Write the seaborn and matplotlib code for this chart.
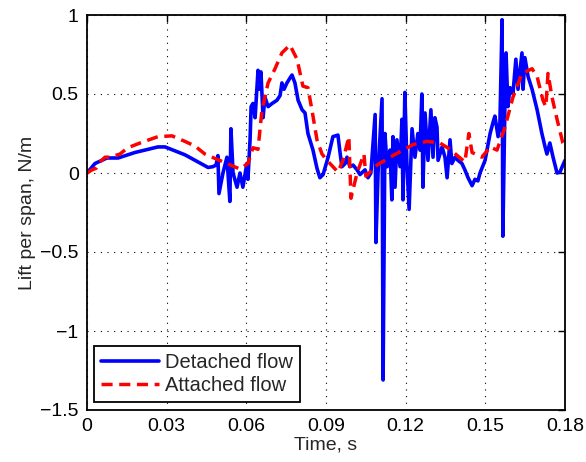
import numpy as np
import pandas as pd
import matplotlib
matplotlib.use("Agg")
import matplotlib.pyplot as plt
import seaborn as sns

# Detached flow (blue, solid)
t_detached = [0.0000, 0.0030, 0.0075, 0.0117, 0.0181, 0.0267, 0.0294, 0.0369, 0.0418, 0.0456,
              0.0474, 0.0486, 0.0493, 0.0497, 0.0512, 0.0527, 0.0538, 0.0542, 0.0550, 0.0565,
              0.0576, 0.0587, 0.0602, 0.0606, 0.0614, 0.0618, 0.0625, 0.0633, 0.0644, 0.0648,
              0.0655, 0.0663, 0.0670, 0.0682, 0.0697, 0.0715, 0.0727, 0.0734, 0.0742, 0.0753,
              0.0764, 0.0772, 0.0783, 0.0795, 0.0810, 0.0821, 0.0832, 0.0851, 0.0866, 0.0877,
              0.0889, 0.0908, 0.0926, 0.0945, 0.0953, 0.0960, 0.0972, 0.0979, 0.0990, 0.1002,
              0.1017, 0.1028, 0.1047, 0.1058, 0.1069, 0.1085, 0.1088, 0.1096, 0.1111, 0.1115,
              0.1122, 0.1130, 0.1141, 0.1148, 0.1152, 0.1160, 0.1167, 0.1179, 0.1186, 0.1190,
              0.1197, 0.1205, 0.1213, 0.1224, 0.1235, 0.1246, 0.1254, 0.1261, 0.1265, 0.1273,
              0.1284, 0.1295, 0.1303, 0.1310, 0.1318, 0.1322, 0.1337, 0.1348, 0.1356, 0.1367,
              0.1374, 0.1386, 0.1397, 0.1412, 0.1423, 0.1435, 0.1450, 0.1461, 0.1472, 0.1480,
              0.1499, 0.1518, 0.1529, 0.1536, 0.1548, 0.1555, 0.1563, 0.1566, 0.1574, 0.1578,
              0.1585, 0.1593, 0.1604, 0.1615, 0.1623, 0.1638, 0.1642, 0.1649, 0.1661, 0.1676,
              0.1695, 0.1713, 0.1725, 0.1732, 0.1743, 0.1755, 0.1770, 0.1781, 0.1792, 0.1800]
lift_detached = [0.00, 0.06, 0.095, 0.095, 0.13, 0.165, 0.165, 0.115, 0.07, 0.035,
                 0.04, 0.05, 0.11, -0.13, 0.00, 0.10, -0.18, 0.28, 0.00, -0.09,
                 0.00, -0.09, 0.06, -0.04, 0.21, 0.42, 0.44, 0.35, 0.65, 0.53,
                 0.64, 0.35, 0.48, 0.42, 0.44, 0.46, 0.49, 0.57, 0.53, 0.57,
                 0.60, 0.62, 0.57, 0.46, 0.40, 0.38, 0.25, 0.145, 0.03, -0.03,
                 -0.01, 0.10, 0.23, 0.24, 0.127, 0.04, 0.06, 0.10, 0.04, 0.05,
                 0.02, -0.01, 0.02, -0.03, 0.00, 0.37, -0.44, 0.00, 0.47, -1.31,
                 0.25, 0.04, 0.145, -0.17, 0.23, -0.09, 0.21, 0.04, 0.34, -0.17,
                 0.51, 0.04, -0.23, 0.28, 0.10, 0.25, 0.145, 0.50, -0.09, 0.38,
                 0.08, 0.40, 0.10, 0.35, 0.29, 0.08, 0.165, 0.10, -0.03, 0.21,
                 0.06, 0.10, 0.08, 0.06, 0.02, -0.03, -0.08, -0.04, -0.05, 0.00,
                 0.08, 0.25, 0.32, 0.36, 0.23, 0.32, 0.97, -0.40, 0.46, 0.76,
                 0.42, 0.54, 0.50, 0.72, 0.53, 0.76, 0.53, 0.73, 0.61, 0.53,
                 0.40, 0.25, 0.165, 0.12, 0.19, 0.10, 0.00, 0.006, 0.05, 0.08]

# Attached flow (red, dashed)
t_attached = [0.0000, 0.0019, 0.0034, 0.0049, 0.0068, 0.0087, 0.0124, 0.0154, 0.0200, 0.0267,
              0.0320, 0.0369, 0.0407, 0.0444, 0.0471, 0.0527, 0.0576, 0.0606, 0.0625, 0.0644,
              0.0659, 0.0682, 0.0708, 0.0734, 0.0764, 0.0791, 0.0813, 0.0832, 0.0847, 0.0866,
              0.0885, 0.0904, 0.0926, 0.0945, 0.0964, 0.0986, 0.0994, 0.1017, 0.1043, 0.1050,
              0.1092, 0.1141, 0.1190, 0.1228, 0.1280, 0.1329, 0.1367, 0.1405, 0.1423, 0.1438,
              0.1450, 0.1487, 0.1518, 0.1544, 0.1574, 0.1604, 0.1638, 0.1676, 0.1695, 0.1717,
              0.1728, 0.1736, 0.1751, 0.1770, 0.1792, 0.1800]
lift_attached = [0.00, 0.02, 0.03, 0.07, 0.10, 0.10, 0.12, 0.16, 0.19, 0.23,
                 0.235, 0.20, 0.17, 0.12, 0.10, 0.06, 0.025, 0.06, 0.16, 0.15,
                 0.40, 0.57, 0.66, 0.76, 0.81, 0.72, 0.55, 0.54, 0.40, 0.21,
                 0.12, 0.08, 0.04, 0.006, 0.08, 0.23, -0.16, 0.00, 0.12, -0.02,
                 0.05, 0.10, 0.145, 0.18, 0.20, 0.19, 0.15, 0.095, 0.07, 0.25,
                 0.13, 0.10, 0.165, 0.145, 0.29, 0.48, 0.63, 0.66, 0.61, 0.46,
                 0.42, 0.63, 0.48, 0.34, 0.19, 0.17]

x_ticks = [0, 0.03, 0.06, 0.09, 0.12, 0.15, 0.18]
x_tick_labels = ["0", "0.03", "0.06", "0.09", "0.12", "0.15", "0.18"]
y_ticks = [-1.5, -1, -0.5, 0, 0.5, 1]
y_tick_labels = ["\u22121.5", "\u22121", "\u22120.5", "0", "0.5", "1"]

sns.set_style("white")
plt.rcParams["font.family"] = ["Liberation Sans", "DejaVu Sans"]
plt.rcParams["axes.unicode_minus"] = True

fig = plt.figure(figsize=(5.86, 4.62), dpi=100)
ax = fig.add_axes([87/586, 1 - 410/462, (565-87)/586, (410-15)/462])

df_d = pd.DataFrame({"t": t_detached, "lift": lift_detached})
df_a = pd.DataFrame({"t": t_attached, "lift": lift_attached})

sns.lineplot(data=df_d, x="t", y="lift", ax=ax, color="#0000ff", linewidth=2.6,
             estimator=None, sort=False, label="Detached flow")
sns.lineplot(data=df_a, x="t", y="lift", ax=ax, color="#ff0000", linewidth=2.5,
             estimator=None, sort=False, label="Attached flow", dashes=False)
ax.lines[1].set_linestyle((0, (3.2, 1.9)))

ax.set_xlim(0, 0.18)
ax.set_ylim(-1.5, 1)
ax.set_xticks(x_ticks)
ax.set_xticklabels(x_tick_labels)
ax.set_yticks(y_ticks)
ax.set_yticklabels(y_tick_labels)
ax.tick_params(direction="in", length=5, width=1, top=True, right=True,
               labelsize=14, colors="black", pad=6)
ax.grid(True, color="black", linestyle=(0, (1, 5)), linewidth=0.8)
for s in ax.spines.values():
    s.set_color("black")
    s.set_linewidth(1.3)
ax.set_xlabel("Time, s", fontsize=14, labelpad=1)
ax.set_ylabel("Lift per span, N/m", fontsize=14, labelpad=3)

leg = ax.legend(loc="lower left", bbox_to_anchor=(7/478, 8/395), fontsize=14.5,
                frameon=True, fancybox=False, handlelength=2.9, borderpad=0.35,
                labelspacing=0.2, handletextpad=0.3, borderaxespad=0)
leg.get_frame().set_edgecolor("black")
leg.get_frame().set_linewidth(1.3)
leg.get_frame().set_alpha(1)

fig.savefig("out.png", dpi=100)
